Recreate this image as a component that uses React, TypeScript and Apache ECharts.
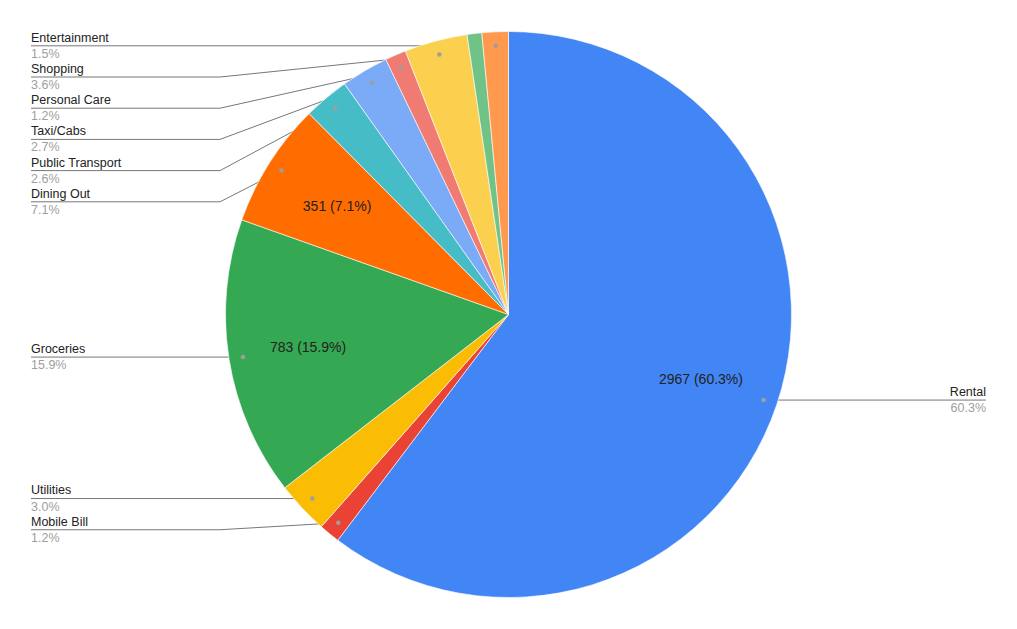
import React, { useEffect, useRef } from "react";
import * as echarts from "echarts";

const categories = [
  "Rental",
  "Mobile Bill",
  "Utilities",
  "Groceries",
  "Dining Out",
  "Public Transport",
  "Taxi/Cabs",
  "Personal Care",
  "Shopping",
  "Other",
  "Entertainment",
];
const amounts = [2967, 59, 148, 783, 351, 128, 133, 59, 177, 41, 74];
const sliceColors = [
  "#4285f4",
  "#ea4335",
  "#fbbc04",
  "#34a853",
  "#ff6d01",
  "#46bdc6",
  "#7baaf7",
  "#f07b72",
  "#fcd04f",
  "#71c287",
  "#ff994d",
];
const unlabeled = ["Other"];

const W = 1017;
const H = 629;
const PIE_R = 283;
const DOT_R = 269;
const VALUE_R = 203;
const INSIDE_OFFSET = 3; // ECharts pushes inside labels 3px outward
const FONT = 'Arial, "Liberation Sans", sans-serif';

const total = amounts.reduce((a, b) => a + b, 0);
const pct = (v: number) => ((v / total) * 100).toFixed(1);

export default function App() {
  const ref = useRef<HTMLDivElement>(null);
  useEffect(() => {
    if (!ref.current) return;
    const chart = echarts.init(ref.current, undefined, { renderer: "svg" });
    const transparent = "rgba(0,0,0,0)";
    const baseData = categories.map((name, i) => ({ name, value: amounts[i] }));

    const option: any = {
      animation: false,
      backgroundColor: "#ffffff",
      series: [
        {
          type: "pie",
          radius: PIE_R,
          center: ["50%", "50%"],
          silent: true,
          label: { show: false },
          labelLine: { show: false },
          emphasis: { disabled: true },
          itemStyle: { borderColor: "#ffffff", borderWidth: 0.6 },
          data: baseData.map((d, i) => ({
            ...d,
            itemStyle: { color: sliceColors[i] },
          })),
        },
        {
          type: "pie",
          radius: PIE_R,
          center: ["50%", "50%"],
          silent: true,
          avoidLabelOverlap: true,
          emphasis: { disabled: true },
          itemStyle: { color: transparent },
          label: {
            show: true,
            position: "outside",
            alignTo: "edge",
            edgeDistance: 31,
            fontFamily: FONT,
            formatter: (p: any) => `{n|${p.name}}\n{p|${pct(p.value)}%}`,
            rich: {
              n: { fontSize: 12.5, color: "#222222", lineHeight: 16.2, fontFamily: FONT },
              p: { fontSize: 12.5, color: "#9e9e9e", lineHeight: 16.2, fontFamily: FONT },
            },
          },
          labelLine: {
            show: true,
            length: DOT_R - PIE_R,
            length2: 0,
            smooth: false,
            lineStyle: { color: "#777777", width: 1 },
          },
          labelLayout: (params: any) => {
            const pts = params.labelLinePoints;
            if (!pts) return {};
            const cx = W / 2;
            const cy = H / 2;
            const k = DOT_R / PIE_R;
            const dot = [cx + (pts[0][0] - cx) * k, cy + (pts[0][1] - cy) * k];
            const r = params.labelRect;
            const y = r.y + r.height / 2;
            const isLeft = r.x + r.width / 2 < cx;
            const edgeX = isLeft ? r.x : r.x + r.width;
            const bendX = isLeft ? edgeX + 189 : edgeX - 189;
            return { labelLinePoints: [dot, [bendX, y], [edgeX, y]] };
          },
          data: baseData.map((d) =>
            unlabeled.includes(d.name)
              ? { ...d, label: { show: false }, labelLine: { show: false } }
              : d
          ),
        },
        {
          type: "pie",
          radius: (VALUE_R - INSIDE_OFFSET) * 2,
          center: ["50%", "50%"],
          silent: true,
          emphasis: { disabled: true },
          itemStyle: { color: transparent },
          labelLine: { show: false },
          label: {
            show: true,
            position: "inside",
            fontFamily: FONT,
            fontSize: 14,
            color: "#222222",
            formatter: (p: any) =>
              p.value / total >= 0.05 ? `${p.value} (${pct(p.value)}%)` : "",
          },
          data: baseData,
        },
        {
          type: "pie",
          radius: (DOT_R - INSIDE_OFFSET) * 2,
          center: ["50%", "50%"],
          silent: true,
          emphasis: { disabled: true },
          itemStyle: { color: transparent },
          labelLine: { show: false },
          label: {
            show: true,
            position: "inside",
            fontSize: 4,
            lineHeight: 4.5,
            formatter: (p: any) => (unlabeled.includes(p.name) ? "" : "{d|}"),
            rich: {
              d: {
                width: 4.5,
                height: 4.5,
                lineHeight: 4.5,
                borderRadius: 2.25,
                backgroundColor: "#9e9e9e",
              },
            },
          },
          data: baseData,
        },
      ],
    };
    chart.setOption(option);
    return () => chart.dispose();
  }, []);
  return (
    <div
      ref={ref}
      style={{ position: "absolute", left: 0, top: 0, width: W, height: H }}
    />
  );
}
